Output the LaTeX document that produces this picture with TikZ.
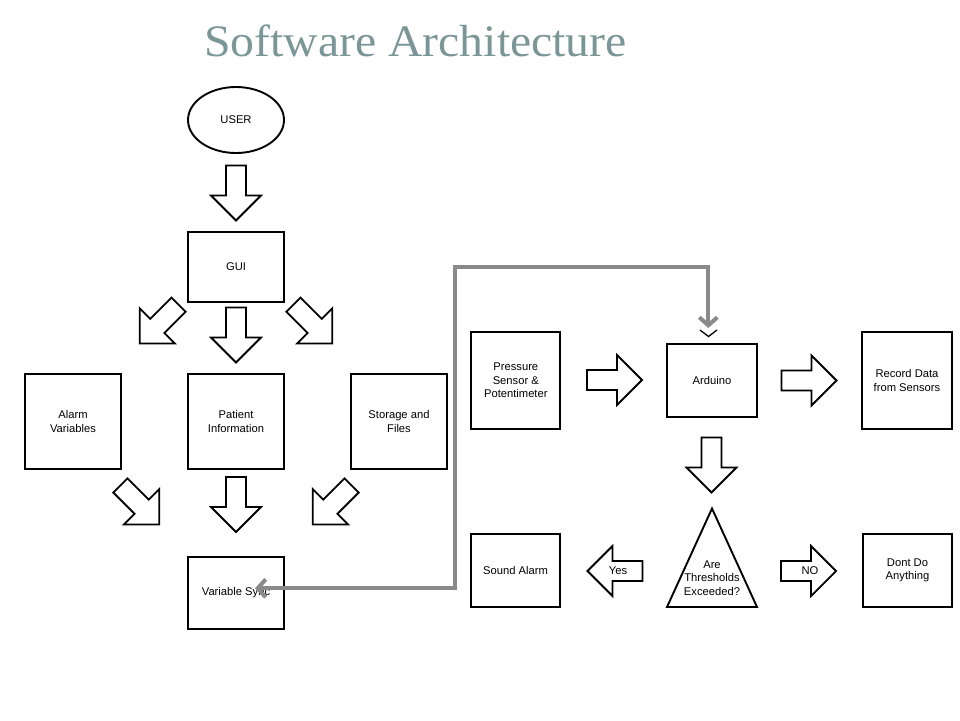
\documentclass[tikz,border=0pt]{standalone}
\usepackage{fontspec}
\setmainfont{Liberation Sans}
\newfontfamily\titlefont{Liberation Serif}
\usetikzlibrary{shapes.geometric,arrows.meta}
\definecolor{titlecol}{RGB}{122,150,150}
\definecolor{linkgray}{RGB}{138,138,138}
\begin{document}
\begin{tikzpicture}[x=1pt,y=-1pt,
  txt/.style={font=\fontsize{11.2}{13.5}\selectfont, align=center},
  box/.style={draw, line width=1.9pt, inner sep=0pt, txt},
  blockarrow/.pic={\draw[line width=1.8pt, line join=miter, fill=white]
     (-28,-10) -- (2,-10) -- (2,-25) -- (27,0) -- (2,25) -- (2,10) -- (-28,10) -- cycle;},
  barb/.tip={Straight Barb[length=8pt,width=18pt]}
]
\useasboundingbox (0,0) rectangle (960,720);
\fill[white] (0,0) rectangle (960,720);

% title
\node[anchor=base, text=titlecol, inner sep=0pt] (title) at (415.5,56)
  {\scalebox{1.06}[1]{\titlefont\fontsize{45}{50}\selectfont Software Architecture}};

% left column
\node[ellipse, draw, line width=1.9pt, minimum width=96pt, minimum height=66pt, inner sep=0pt, txt] (user) at (236,120) {USER};
\node[box, minimum width=96pt, minimum height=70pt] (gui) at (236,267) {GUI};
\node[box, minimum width=96pt, minimum height=95pt] (alarm) at (73,421.5) {Alarm\\Variables};
\node[box, minimum width=96pt, minimum height=95pt] (patient) at (236,421.5) {Patient\\Information};
\node[box, minimum width=96pt, minimum height=95pt] (storage) at (399,421.5) {Storage and\\Files};
\node[box, minimum width=96pt, minimum height=72pt] (vsync) at (236,593) {Variable Sync};

\pic[rotate=-90] at (236,193.5) {blockarrow};
\pic[rotate=-135] at (158.8,324.5) {blockarrow};
\pic[rotate=-90] at (236,335.5) {blockarrow};
\pic[rotate=-45] at (313.2,324.5) {blockarrow};
\pic[rotate=-45] at (140.2,505.3) {blockarrow};
\pic[rotate=-90] at (236,505) {blockarrow};
\pic[rotate=-135] at (331.8,505.3) {blockarrow};

% right part
\node[box, minimum width=89pt, minimum height=97pt] (pressure) at (515.8,380.5) {Pressure\\Sensor \&\\Potentimeter};
\node[box, minimum width=90pt, minimum height=73pt] (arduino) at (712,380.5) {Arduino};
\node[box, minimum width=90pt, minimum height=97pt] (record) at (907,380.5) {Record Data\\from Sensors};
\node[box, minimum width=89pt, minimum height=73pt] (sound) at (515.5,570.5) {Sound Alarm};
\node[box, minimum width=89pt, minimum height=73pt] (dont) at (907.5,570.5) {Dont Do\\Anything};

\draw[line width=1.9pt, line join=miter] (712,508.5) -- (757,607) -- (667,607) -- cycle;
\node[txt, inner sep=0pt] (thr) at (712,578) {Are\\Thresholds\\Exceeded?};

\pic at (615,380) {blockarrow};
\pic at (809.5,380.5) {blockarrow};
\pic[rotate=-90] at (711.5,465.5) {blockarrow};
\pic[rotate=180] at (614.5,571) {blockarrow};
\pic at (809,571) {blockarrow};
\node[txt, inner sep=0pt] (yes) at (618,571) {Yes};
\node[txt, inner sep=0pt] (no) at (810,571) {NO};

% gray link
\coordinate (vsin) at (255,588.3);
\coordinate (ardin) at (708.3,328);
\coordinate (bend) at (455,267.3);
\draw[linkgray, line width=4pt, barb-barb] (vsin) -| (bend) -| (ardin);
\draw[line width=1.3pt] (700,330) -- (708.5,336.5) -- (717,330);
\end{tikzpicture}
\end{document}
